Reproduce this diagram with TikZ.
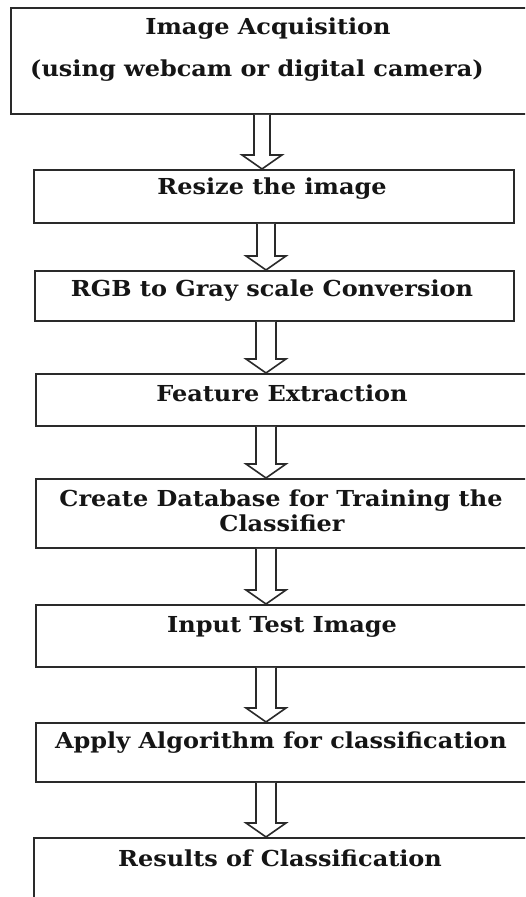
\documentclass[tikz,border=0pt]{standalone}
\usepackage{fontspec}
\setmainfont{DejaVu Serif}
\usetikzlibrary{calc}
\definecolor{ln}{HTML}{2A2A2A}
\definecolor{tx}{HTML}{151515}
\tikzset{
  box/.style={draw=ln, line width=1.8pt, rectangle, anchor=north west, inner sep=0pt},
  lbl/.style={anchor=base, inner sep=0pt, text=tx, xscale=1.09, transform shape,
    font=\fontsize{22}{26}\selectfont\bfseries},
  arr/.style={draw=ln, line width=1.6pt, line join=miter, fill=white}
}
% #1 from node, #2 to node, #3 x coordinate name, #4 shaft half width
\newcommand{\blockarr}[4]{%
  \draw[arr] ($(#1.south -| #3)+(-#4,0)$) -- ($(#2.north -| #3)+(-#4,14)$)
    -- ($(#2.north -| #3)+(-20,14)$) -- (#2.north -| #3)
    -- ($(#2.north -| #3)+(20,14)$) -- ($(#2.north -| #3)+(#4,14)$)
    -- ($(#1.south -| #3)+(#4,0)$);}
\begin{document}
\begin{tikzpicture}[x=1pt,y=1pt]
\useasboundingbox (0,0) rectangle (525,897);
\clip (0,0) rectangle (525,897);
\fill[white] (0,0) rectangle (525,897);
% boxes (image y -> 897-y)
\node[box, minimum width=518pt, minimum height=106pt] (b1) at (10,890) {};
\node[box, minimum width=480pt, minimum height=53pt] (b2) at (33,728) {};
\node[box, minimum width=479pt, minimum height=50pt] (b3) at (34,627) {};
\node[box, minimum width=495pt, minimum height=52pt] (b4) at (35,524) {};
\node[box, minimum width=495pt, minimum height=69pt] (b5) at (35,419) {};
\node[box, minimum width=495pt, minimum height=62pt] (b6) at (35,293) {};
\node[box, minimum width=495pt, minimum height=59pt] (b7) at (35,175) {};
\node[box, minimum width=497pt, minimum height=80pt] (b8) at (33,60) {};
% texts
\node[lbl] (t1a) at (268,862) {Image Acquisition};
\node[lbl] (t1b) at (257,820) {(using webcam or digital camera)};
\node[lbl] (t2) at (272,702) {Resize the image};
\node[lbl] (t3) at (272,600) {RGB to Gray scale Conversion};
\node[lbl] (t4) at (282,495) {Feature Extraction};
\node[lbl] (t5a) at (281,390) {Create Database for Training the};
\node[lbl] (t5b) at (282,365) {Classifier};
\node[lbl] (t6) at (282,264) {Input Test Image};
\node[lbl] (t7) at (281,148) {Apply Algorithm for classification};
\node[lbl] (t8) at (280,30) {Results of Classification};
% arrow axes
\coordinate (ax1) at (262,0);
\coordinate (ax2) at (266,0);
\blockarr{b1}{b2}{ax1}{8}
\blockarr{b2}{b3}{ax2}{9}
\blockarr{b3}{b4}{ax2}{10}
\blockarr{b4}{b5}{ax2}{10}
\blockarr{b5}{b6}{ax2}{10}
\blockarr{b6}{b7}{ax2}{10}
\blockarr{b7}{b8}{ax2}{10}
\end{tikzpicture}
\end{document}
